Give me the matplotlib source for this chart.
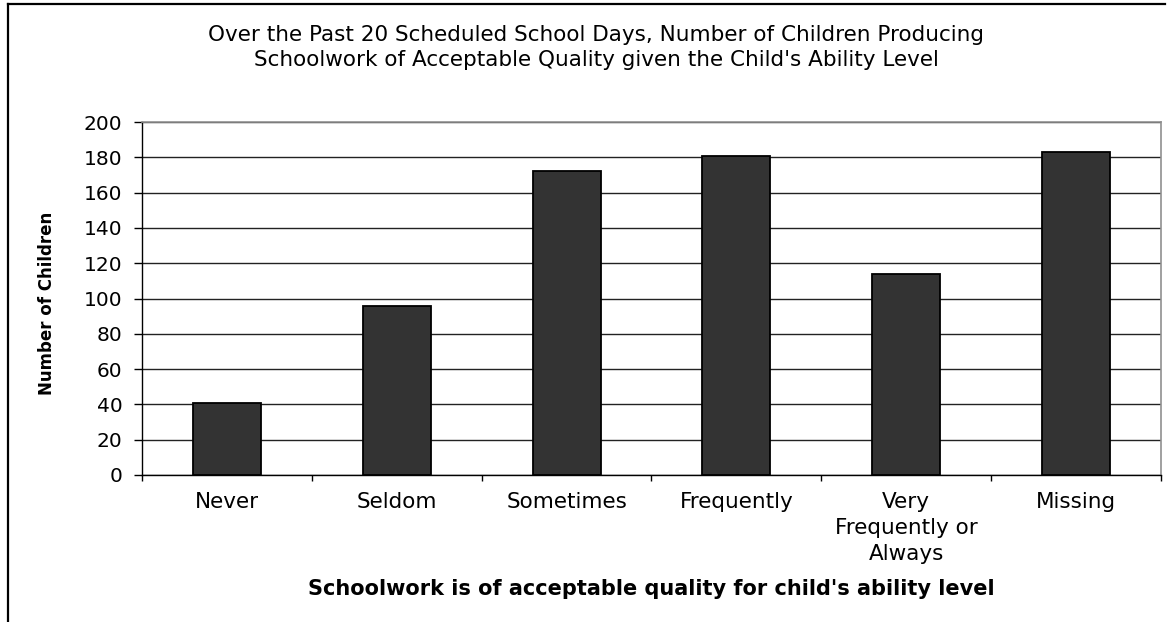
import matplotlib
matplotlib.use("Agg")
import matplotlib.pyplot as plt
import numpy as np
from matplotlib.lines import Line2D

# Values
categories = ["Never", "Seldom", "Sometimes", "Frequently",
              "Very\nFrequently or\nAlways", "Missing"]
children = [41, 96, 172, 181, 114, 183]
y_ticks = list(range(0, 201, 20))

title_lines = [
    "Over the Past 20 Scheduled School Days, Number of Children Producing",
    "Schoolwork of Acceptable Quality given the Child's Ability Level",
]
x_label = "Schoolwork is of acceptable quality for child's ability level"
y_label = "Number of Children"

plt.rcParams["font.family"] = ["DejaVu Sans"]

W, H = 1169, 622
fig = plt.figure(figsize=(W / 100, H / 100), dpi=100)
ax = fig.add_axes([142 / W, 1 - 475 / H, (1161 - 142) / W, (475 - 122) / H])

x = np.arange(len(categories))
ax.bar(x, children, width=0.4, color="#333333", edgecolor="black",
       linewidth=1.3, zorder=3)

ax.set_xlim(-0.5, len(categories) - 0.5)
ax.set_ylim(0, 200)
ax.set_yticks(y_ticks)
ax.tick_params(axis="y", direction="out", length=6, width=1,
               pad=8, labelsize=14.5)

ax.set_xticks(x)
ax.set_xticklabels(categories, fontsize=15.5, linespacing=1.4, va="top")
ax.set_xticks(np.arange(len(categories) + 1) - 0.5, minor=True)
ax.tick_params(axis="x", which="major", length=0, pad=12)
ax.tick_params(axis="x", which="minor", direction="out", length=4, width=1)

ax.grid(axis="y", color="#222222", linewidth=1.0, zorder=0)
ax.set_axisbelow(True)
for side in ("top", "right"):
    ax.spines[side].set_color("#909090")
    ax.spines[side].set_linewidth(1.2)
for side in ("left", "bottom"):
    ax.spines[side].set_color("black")
    ax.spines[side].set_linewidth(1.0)

# Titles and axis labels placed in figure coordinates
fig.text(596 / W, 1 - 35 / H, title_lines[0], ha="center", va="center",
         fontsize=15.5)
fig.text(596 / W, 1 - 60 / H, title_lines[1], ha="center", va="center",
         fontsize=15.5)
fig.text(651 / W, 1 - 589 / H, x_label, ha="center", va="center",
         fontsize=15, fontweight="bold")
fig.text(47 / W, 1 - 303 / H, y_label, ha="center", va="center",
         rotation=90, fontsize=12, fontweight="bold")

# Outer frame (left and top edges only are visible in the crop)
fig.add_artist(Line2D([8 / W, 8 / W], [0, 1 - 4 / H], transform=fig.transFigure,
                      color="black", linewidth=1.6))
fig.add_artist(Line2D([8 / W, 1165 / W], [1 - 4 / H, 1 - 4 / H],
                      transform=fig.transFigure, color="black", linewidth=1.6))

fig.savefig("out.png", dpi=100)
plt.close(fig)
